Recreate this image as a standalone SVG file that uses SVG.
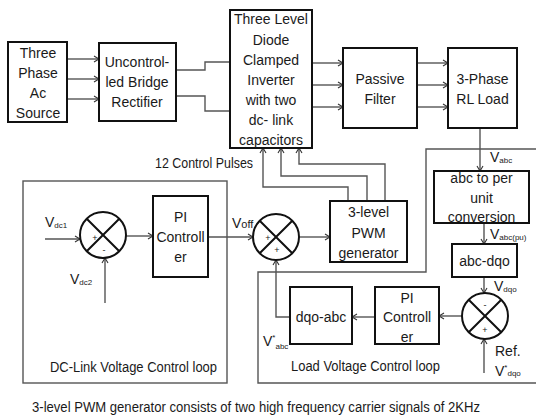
<svg xmlns="http://www.w3.org/2000/svg" width="536" height="419" viewBox="0 0 536 419">
<defs>
<marker id="ah" markerWidth="8" markerHeight="8" refX="7" refY="4" orient="auto" markerUnits="userSpaceOnUse">
<path d="M2,1 L7,4 L2,7" fill="none" stroke="#333" stroke-width="1.1"/>
</marker>
<style>
.box{fill:#fff;stroke:#111;stroke-width:2}
.loop{fill:none;stroke:#555;stroke-width:1.4}
.ln{fill:none;stroke:#555;stroke-width:1.4}
.ar{fill:none;stroke:#555;stroke-width:1.4;marker-end:url(#ah)}
.sum{fill:#fff;stroke:#111;stroke-width:2}
.t{font-family:"Liberation Sans",Arial,sans-serif;font-size:14px;fill:#1a1a1a;text-anchor:middle}
.tl{font-family:"Liberation Sans",Arial,sans-serif;font-size:14px;fill:#1a1a1a}
.s{font-family:"Liberation Sans",Arial,sans-serif;font-size:8px;fill:#1a1a1a}
.sg{font-family:"Liberation Sans",Arial,sans-serif;font-size:9px;fill:#1a1a1a;text-anchor:middle}
</style>
</defs>
<rect width="536" height="419" fill="#fff"/>
<g id="loops">
<rect class="loop" x="23" y="181" width="204" height="202"/>
<path class="loop" d="M540,149 H426 V272 H258 V383 H540"/>
</g>
<g id="connectors">
<path class="ar" d="M67,59 H99"/>
<path class="ar" d="M67,79 H99"/>
<path class="ar" d="M67,99 H99"/>
<path class="ln" d="M176,70 H205 V62 H230"/>
<path class="ln" d="M176,96 H205 V111 H230"/>
<path class="ar" d="M312,63 H343"/>
<path class="ar" d="M312,85 H343"/>
<path class="ar" d="M312,107 H343"/>
<path class="ar" d="M417,63 H448"/>
<path class="ar" d="M417,85 H448"/>
<path class="ar" d="M417,107 H448"/>
<path class="ar" d="M480,128 V171"/>
<path class="ar" d="M484,223 V244"/>
<path class="ar" d="M484,277 V293"/>
<path class="ar" d="M484,373 V339"/>
<path class="ar" d="M462,316 H439"/>
<path class="ar" d="M375,317 H352"/>
<path class="ar" d="M290,317 H276 V260"/>
<path class="ar" d="M45,239 H80"/>
<path class="ar" d="M105,303 V258"/>
<path class="ar" d="M126,236 H153"/>
<path class="ar" d="M208,237 H253"/>
<path class="ar" d="M299,237 H330"/>
<path class="ar" d="M348,201 V187 H263 V148"/>
<path class="ar" d="M367,201 V176 H281 V148"/>
<path class="ar" d="M385,201 V164 H299 V148"/>
</g>
<g id="source">
<rect class="box" x="8" y="42" width="59" height="80"/>
<text class="t" x="38" y="58">Three</text>
<text class="t" x="38" y="78">Phase</text>
<text class="t" x="38" y="98">Ac</text>
<text class="t" x="38" y="118">Source</text>
</g>
<g id="rectifier">
<rect class="box" x="99" y="43" width="77" height="78"/>
<text class="t" x="137" y="67">Uncontrol-</text>
<text class="t" x="137" y="87">led Bridge</text>
<text class="t" x="137" y="107">Rectifier</text>
</g>
<g id="inverter">
<rect class="box" x="230" y="10" width="82" height="138"/>
<text class="t" x="271" y="24">Three Level</text>
<text class="t" x="271" y="45">Diode</text>
<text class="t" x="271" y="65">Clamped</text>
<text class="t" x="271" y="85">Inverter</text>
<text class="t" x="271" y="105">with two</text>
<text class="t" x="271" y="125">dc- link</text>
<text class="t" x="271" y="145">capacitors</text>
</g>
<g id="filter">
<rect class="box" x="343" y="48" width="74" height="80"/>
<text class="t" x="380" y="84">Passive</text>
<text class="t" x="380" y="104">Filter</text>
</g>
<g id="load">
<rect class="box" x="448" y="48" width="69" height="80"/>
<text class="t" x="482.5" y="84">3-Phase</text>
<text class="t" x="482.5" y="104">RL Load</text>
</g>
<g id="pulses-label">
<text class="tl" x="155" y="168" textLength="98" lengthAdjust="spacingAndGlyphs">12 Control Pulses</text>
</g>
<g id="sum1">
<circle class="sum" cx="103" cy="235" r="23"/>
<path class="sum" d="M86.7,218.7 L119.3,251.3 M119.3,218.7 L86.7,251.3"/>
<text class="sg" x="95" y="241">+</text>
<text class="sg" x="104" y="253">-</text>
</g>
<g id="vdc-labels">
<text class="tl" x="45" y="227" font-size="13">V<tspan class="s" dy="1">dc1</tspan></text>
<text class="tl" x="70" y="284" font-size="13">V<tspan class="s" dy="1">dc2</tspan></text>
</g>
<g id="pi1">
<rect class="box" x="153" y="196" width="55" height="81"/>
<text class="t" x="180.5" y="222">PI</text>
<text class="t" x="180.5" y="242">Controll</text>
<text class="t" x="180.5" y="262">er</text>
</g>
<g id="voff">
<text class="tl" x="232" y="228" font-size="13">V<tspan font-size="11">off</tspan></text>
</g>
<g id="sum2">
<circle class="sum" cx="276" cy="237" r="23"/>
<path class="sum" d="M259.7,220.7 L292.3,253.3 M292.3,220.7 L259.7,253.3"/>
<text class="sg" x="268" y="241">+</text>
<text class="sg" x="277" y="253">+</text>
</g>
<g id="pwm">
<rect class="box" x="330" y="201" width="77" height="61"/>
<text class="t" x="368.5" y="217">3-level</text>
<text class="t" x="368.5" y="238">PWM</text>
<text class="t" x="368.5" y="258">generator</text>
</g>
<g id="abc-pu">
<rect class="box" x="434" y="171" width="95" height="52"/>
<text class="t" x="481.5" y="183">abc to per</text>
<text class="t" x="481.5" y="203">unit</text>
<text class="t" x="481.5" y="222">conversion</text>
<text class="tl" x="490" y="162" font-size="13">V<tspan class="s" dy="1">abc</tspan></text>
<text class="tl" x="490" y="239" font-size="13">V<tspan class="s" dy="1">abc(pu)</tspan></text>
</g>
<g id="abc-dqo">
<rect class="box" x="452" y="244" width="65" height="33"/>
<text class="t" x="484.5" y="266">abc-dqo</text>
<text class="tl" x="494" y="291" font-size="13">V<tspan class="s" dy="1">dqo</tspan></text>
</g>
<g id="sum3">
<circle class="sum" cx="485" cy="316" r="23"/>
<path class="sum" d="M468.7,299.7 L501.3,332.3 M501.3,299.7 L468.7,332.3"/>
<text class="sg" x="485" y="308">-</text>
<text class="sg" x="485" y="333">+</text>
<text class="tl" x="495" y="356">Ref.</text>
<text class="tl" x="495" y="376" font-size="13">V<tspan class="s" dy="-6">*</tspan><tspan class="s" dy="6">dqo</tspan></text>
</g>
<g id="pi2">
<rect class="box" x="375" y="287" width="64" height="57"/>
<text class="t" x="407" y="303">PI</text>
<text class="t" x="407" y="322">Controll</text>
<text class="t" x="407" y="342">er</text>
</g>
<g id="dqo-abc">
<rect class="box" x="290" y="287" width="62" height="57"/>
<text class="t" x="321" y="322">dqo-abc</text>
<text class="tl" x="263" y="346" font-size="13">V<tspan class="s" dy="-6">*</tspan><tspan class="s" dy="9">abc</tspan></text>
</g>
<g id="loop-labels">
<text class="tl" x="50" y="372" textLength="167" lengthAdjust="spacingAndGlyphs">DC-Link Voltage Control loop</text>
<text class="tl" x="291" y="371" textLength="149" lengthAdjust="spacingAndGlyphs">Load Voltage Control loop</text>
</g>
<g id="caption">
<text class="tl" x="32" y="412" textLength="448" lengthAdjust="spacingAndGlyphs">3-level PWM generator consists of two high frequency carrier signals of  2KHz</text>
</g>
</svg>
